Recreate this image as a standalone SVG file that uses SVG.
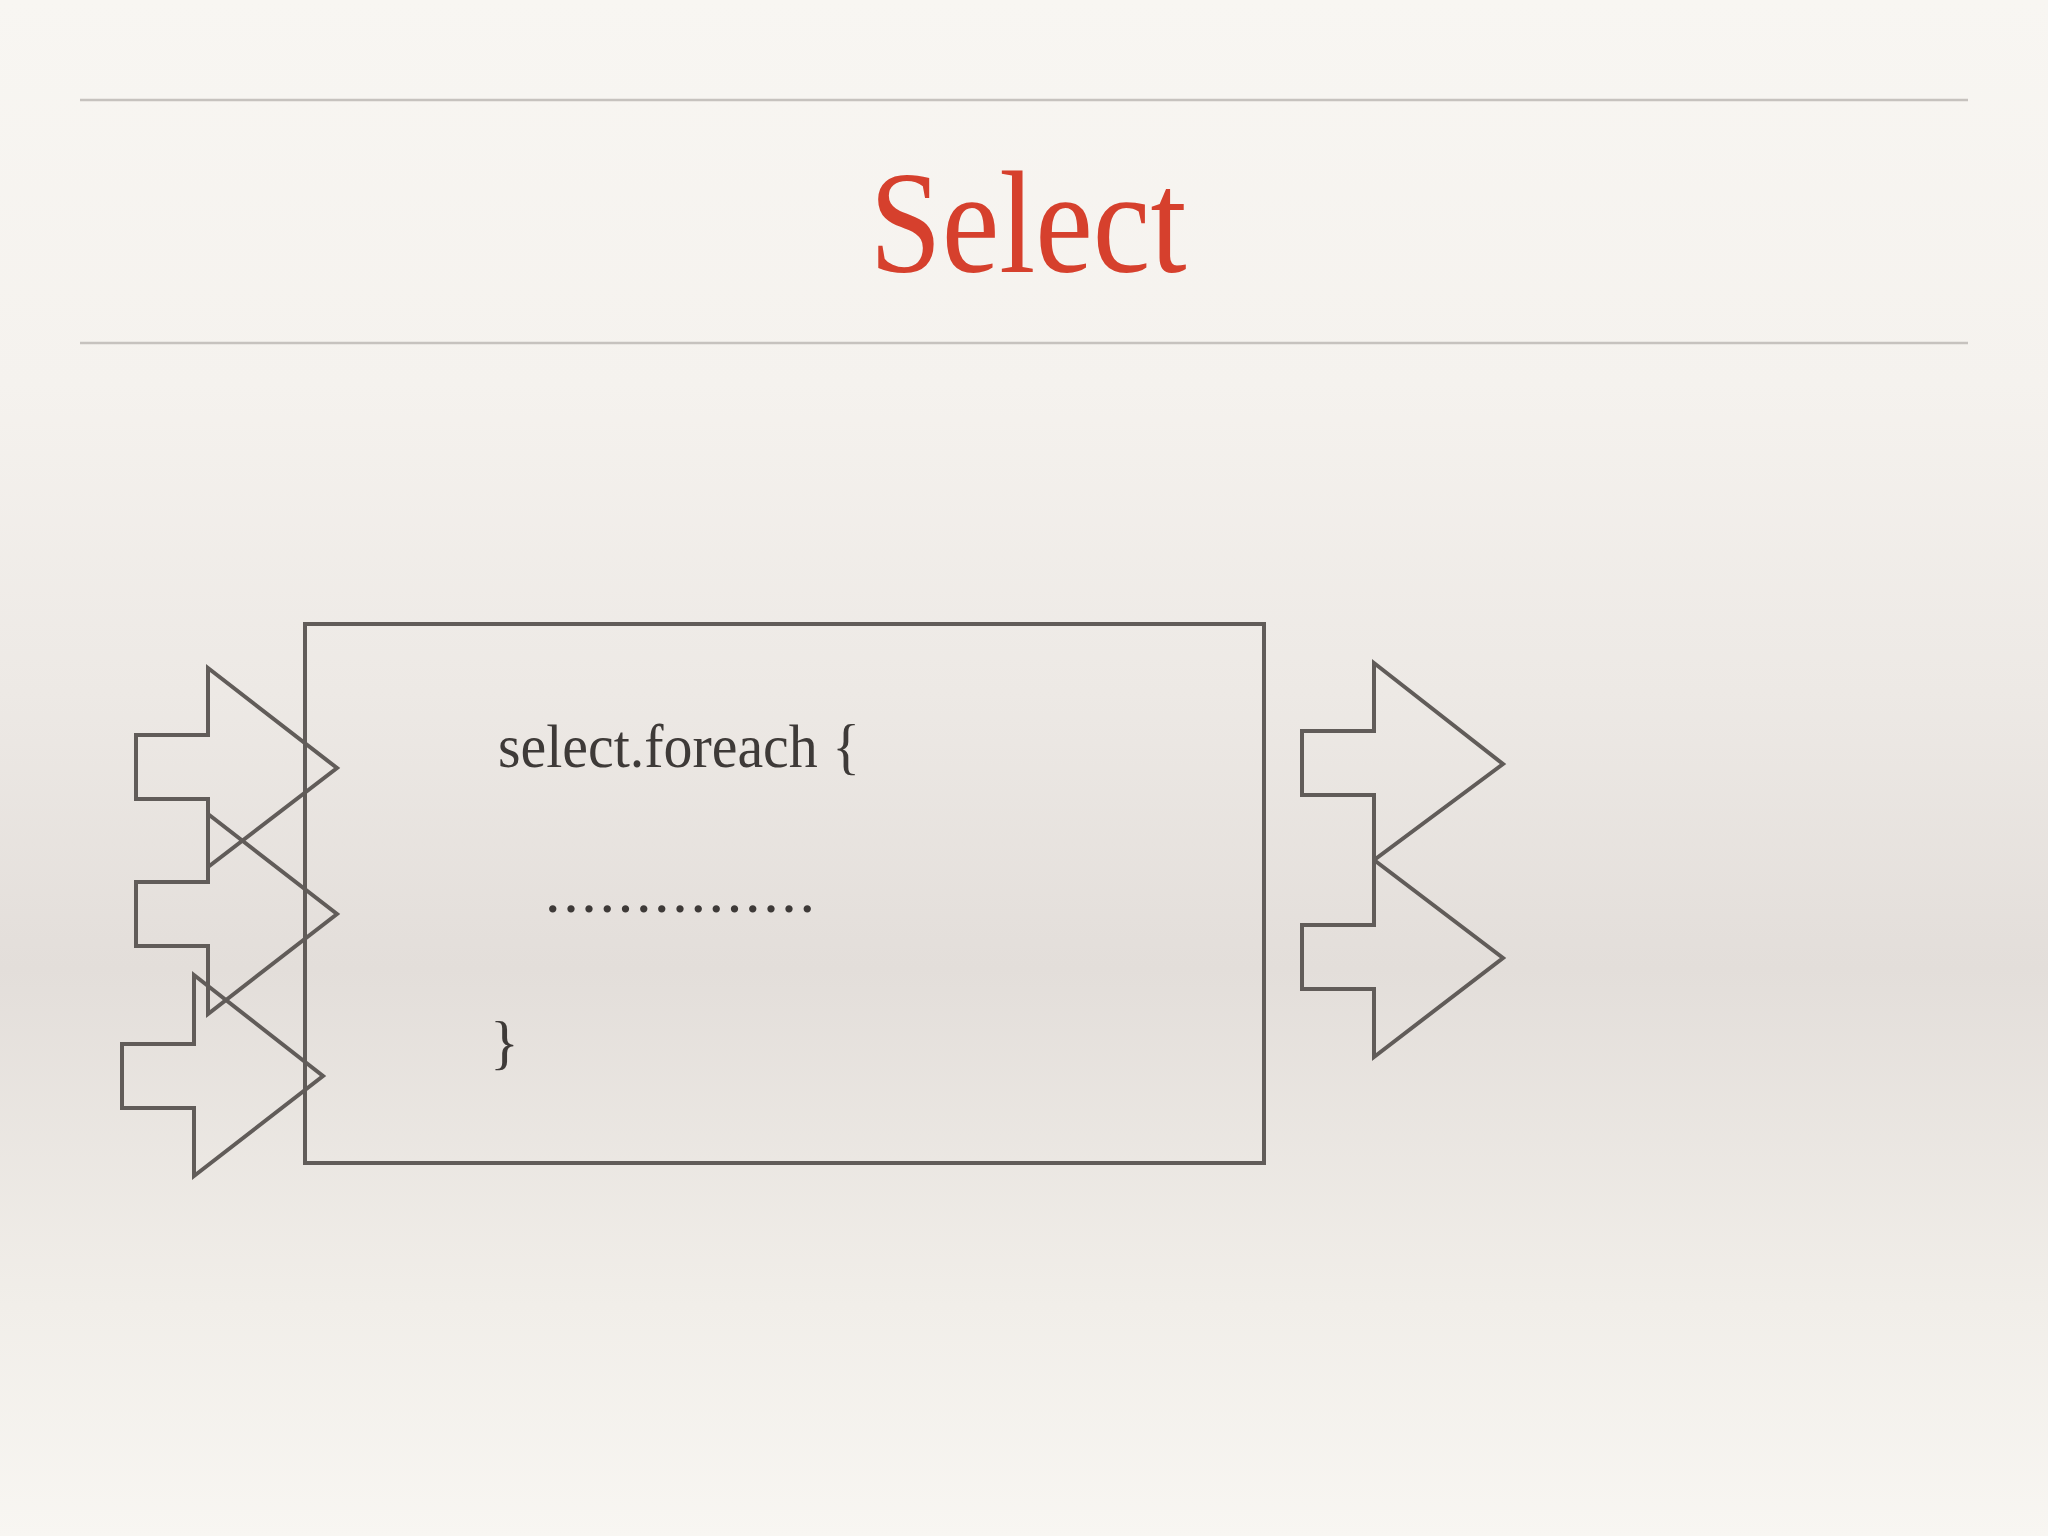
<svg xmlns="http://www.w3.org/2000/svg" width="2048" height="1536" viewBox="0 0 2048 1536">
  <defs>
    <linearGradient id="bg" x1="0" y1="0" x2="0" y2="1">
      <stop offset="0" stop-color="#F8F6F2"/>
      <stop offset="0.25" stop-color="#F5F2EE"/>
      <stop offset="0.45" stop-color="#EDE9E5"/>
      <stop offset="0.63" stop-color="#E3DEDA"/>
      <stop offset="0.85" stop-color="#F1EEE9"/>
      <stop offset="1" stop-color="#F8F6F2"/>
    </linearGradient>
  </defs>
  <style>
    .rule { stroke: #C6C2BE; stroke-width: 2.5; }
    .shape { fill: none; stroke: #615C59; stroke-width: 4; stroke-linejoin: miter; }
    .code { font-family: "Liberation Serif", "DejaVu Serif", serif; fill: #3E3A38; }
    .title { font-family: "Liberation Serif", "DejaVu Serif", serif; fill: #D6402D; }
  </style>
  <rect x="0" y="0" width="2048" height="1536" fill="url(#bg)"/>
  <line class="rule" x1="80" y1="100" x2="1968" y2="100"/>
  <line class="rule" x1="80" y1="343" x2="1968" y2="343"/>
  <text class="title" x="1028" y="272" font-size="146" text-anchor="middle" textLength="317" lengthAdjust="spacingAndGlyphs">Select</text>

  <g id="box">
    <rect class="shape" x="305" y="624" width="959" height="539"/>
    <text class="code" x="498" y="767" font-size="61" textLength="362" lengthAdjust="spacingAndGlyphs">select.foreach {</text>
    <text class="code" x="545" y="912" font-size="62" textLength="270" lengthAdjust="spacing">...............</text>
    <text class="code" x="490" y="1062" font-size="60">}</text>
  </g>

  <g id="connectors">
    <g id="in1"><polygon class="shape" points="136,735 208,735 208,668 337,768 208,867 208,799 136,799"/></g>
    <g id="in2"><polygon class="shape" points="136,882 208,882 208,814 337,914 208,1014 208,946 136,946"/></g>
    <g id="in3"><polygon class="shape" points="122,1044 194,1044 194,975 323,1076 194,1176 194,1108 122,1108"/></g>
    <g id="out1"><polygon class="shape" points="1302,731 1374,731 1374,663 1503,764 1374,860 1374,795 1302,795"/></g>
    <g id="out2"><polygon class="shape" points="1302,925 1374,925 1374,860 1503,958 1374,1057 1374,989 1302,989"/></g>
  </g>
</svg>
